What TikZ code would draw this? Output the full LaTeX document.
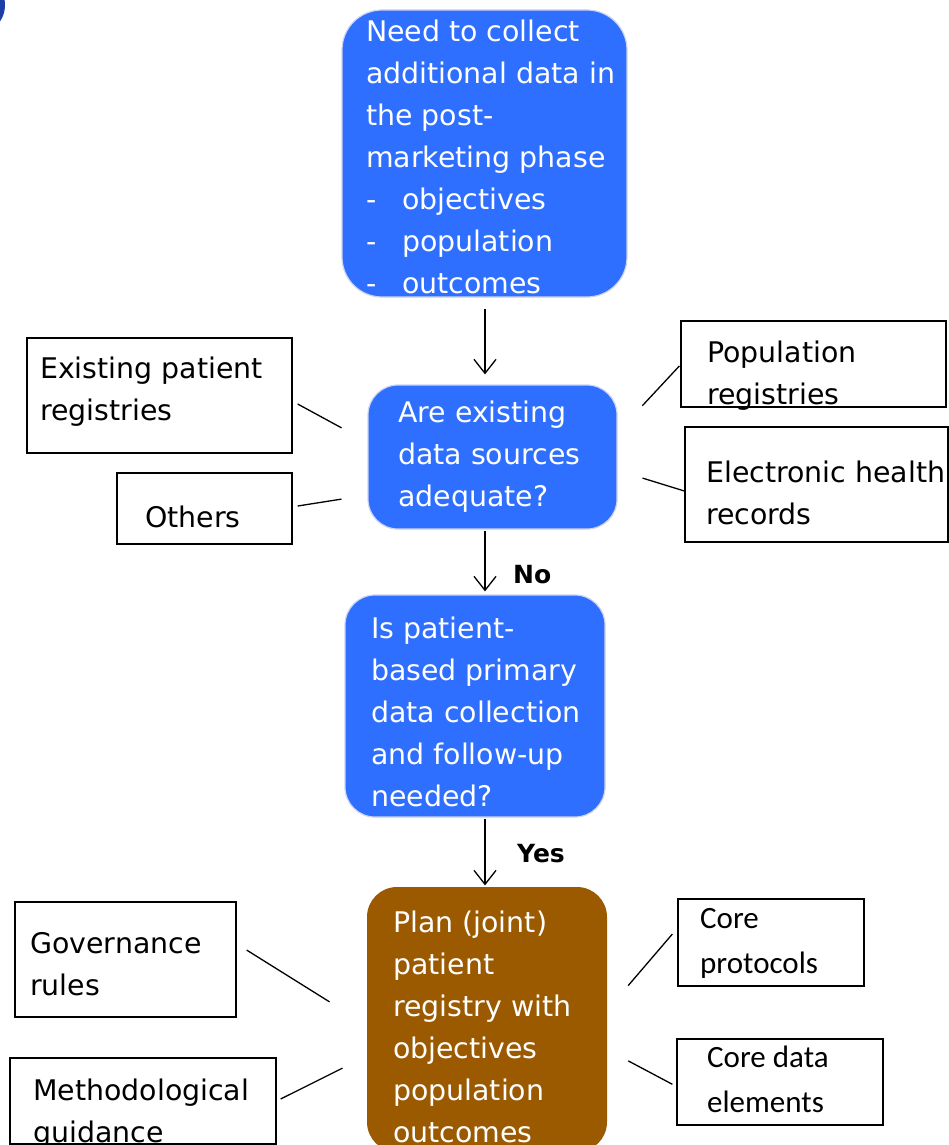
\documentclass[tikz,border=0pt]{standalone}
\usepackage{fontspec}
\setmainfont{DejaVu Sans}
\newfontfamily\corefont{Carlito}
\usepackage{tikz}
\usetikzlibrary{positioning,arrows.meta,calc}
\definecolor{qblue}{HTML}{2F6FFF}
\definecolor{qedge}{HTML}{CDD3F2}
\definecolor{planbrown}{HTML}{9C5A00}
\definecolor{cornerblue}{HTML}{1C3FA6}

% text nodes are placed by the baseline of their last line
\tikzset{
  stage/.style={draw=qedge,line width=1.2pt,fill=qblue,rounded corners=30pt,inner sep=0pt},
  aside/.style={draw=black,line width=1.3pt,inner sep=0pt},
  body/.style={font=\fontsize{28.4}{42}\selectfont,text=white,align=left,inner sep=0pt,anchor=base west},
  note/.style={font=\fontsize{28.4}{42}\selectfont,align=left,inner sep=0pt,anchor=base west},
  corenote/.style={font=\corefont\fontsize{31}{45}\selectfont,align=left,inner sep=0pt,anchor=base west},
  tag/.style={font=\fontsize{25}{30}\selectfont\bfseries,inner sep=0pt,anchor=base west},
  link/.style={line width=1.3pt},
  flow/.style={line width=1.3pt,-{Straight Barb[length=14pt,width=22pt]}}
}

\begin{document}
\begin{tikzpicture}[x=1pt,y=-1pt]
\useasboundingbox (0,0) rectangle (949,1145);
\fill[cornerblue] (-25,5) circle (30pt);
\coordinate (spine) at (485,0);

% main flow
\node[stage,minimum width=285pt,minimum height=287pt,rounded corners=40pt] (need) at (484.5,153.5) {};
\node[body] (need-t) at (366,293) {Need to collect\\additional data in\\the post-\\marketing phase\\
  \makebox[36pt][l]{-}objectives\\\makebox[36pt][l]{-}population\\\makebox[36pt][l]{-}outcomes};

\node[stage,minimum width=249pt,minimum height=144pt] (adequate) at (492.5,457) {};
\node[body] (adequate-t) at (398,506) {Are existing\\data sources\\adequate?};

\node[stage,minimum width=260pt,minimum height=222pt] (primary) at (475,706) {};
\node[body] (primary-t) at (371,806) {Is patient-\\based primary\\data collection\\and follow-up\\needed?};

\node[stage,draw=none,fill=planbrown,minimum width=240pt,minimum height=265pt] (plan) at (487,1019.5) {};
\node[body] (plan-t) at (393,1142) {Plan (joint)\\patient\\registry with\\objectives\\population\\outcomes};

\draw[flow,shorten <=11pt,shorten >=10pt] (need.south -| spine) -- (adequate.north -| spine);
\draw[flow,shorten <=1pt,shorten >=3pt] (adequate.south -| spine) -- (primary.north -| spine);
\node[tag] (no) at (513,583) {No};
\draw[flow,shorten <=1pt,shorten >=1pt] (primary.south -| spine) -- (plan.north -| spine);
\node[tag] (yes) at (517,862) {Yes};

% data sources
\node[aside,minimum width=265pt,minimum height=115pt] (epr) at (159.5,395.5) {};
\node[note] (epr-t) at (40,420) {Existing patient\\registries};
\node[aside,minimum width=175pt,minimum height=71pt] (others) at (204.5,508.5) {};
\node[note] (others-t) at (145,527) {Others};
\node[aside,minimum width=265pt,minimum height=86pt] (popreg) at (813.5,364) {};
\node[note] (popreg-t) at (707,404) {Population\\registries};
\node[aside,minimum width=263pt,minimum height=115pt] (ehr) at (816.5,484.5) {};
\node[note] (ehr-t) at (706,524) {Electronic health\\records};

\draw[link,shorten <=5.7pt,shorten >=29.5pt] ([yshift=-5.8pt]epr.east) -- ([yshift=15.1pt]adequate.west);
\draw[link,shorten <=5.1pt,shorten >=26.3pt] ([yshift=1.7pt]others.east) -- ([yshift=-38pt]adequate.west);
\draw[link,shorten <=1.5pt,shorten >=36.3pt] ([yshift=-0.9pt]popreg.west) -- ([yshift=24.7pt]adequate.east);
\draw[link,shorten >=26.1pt] ([yshift=-6.5pt]ehr.west) -- ([yshift=-13.4pt]adequate.east);

% registry building blocks
\node[aside,minimum width=221pt,minimum height=115pt] (gov) at (125.5,959.5) {};
\node[note] (gov-t) at (30,995) {Governance\\rules};
\node[aside,minimum width=266pt,minimum height=86pt] (meth) at (143,1101) {};
\node[note] (meth-t) at (33,1142) {Methodological\\guidance};
\node[aside,minimum width=186pt,minimum height=87pt] (coreprot) at (771,942.5) {};
\node[corenote] (coreprot-t) at (700,973) {Core\\protocols};
\node[aside,minimum width=206pt,minimum height=86pt] (coredata) at (780,1082) {};
\node[corenote] (coredata-t) at (707,1112) {Core data\\elements};

\draw[link,shorten <=11.8pt,shorten >=43.5pt] ([yshift=15.7pt]gov.east) -- ([yshift=-5.4pt]plan.west);
\draw[link,shorten <=4.5pt,shorten >=26.7pt] (meth.east) -- ([yshift=-36.7pt]plan.west);
\draw[link,shorten <=7.6pt,shorten >=31.6pt] ([yshift=14.3pt]coreprot.west) -- ([yshift=9.9pt]plan.east);
\draw[link,shorten <=4.5pt,shorten >=23.4pt] ([yshift=-4.4pt]coredata.west) -- ([yshift=-30.4pt]plan.east);
\end{tikzpicture}
\end{document}
